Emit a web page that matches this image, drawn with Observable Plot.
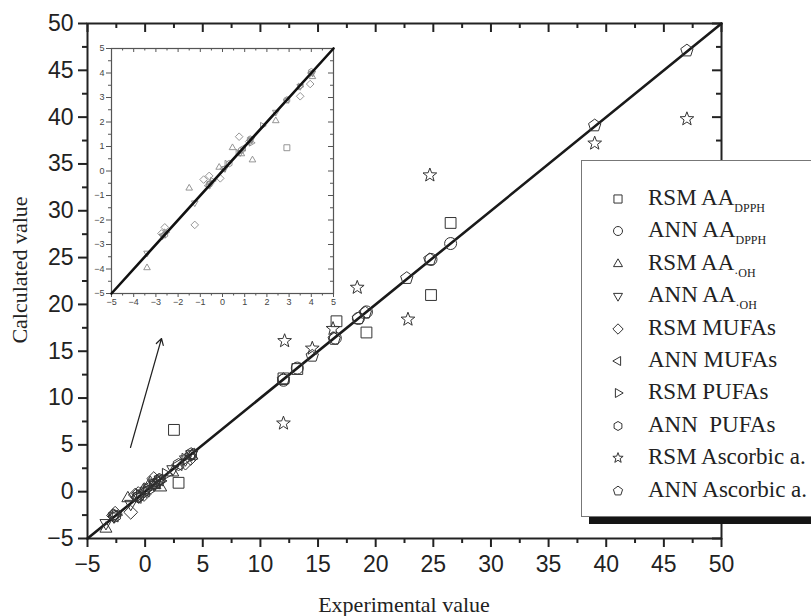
<!DOCTYPE html>
<html><head><meta charset="utf-8">
<script src="https://cdn.jsdelivr.net/npm/d3@7"></script>
<script src="https://cdn.jsdelivr.net/npm/@observablehq/plot@0.6"></script>
<style>
html,body{margin:0;padding:0;background:#fff;overflow:hidden}
#wrap{position:relative;width:811px;height:616px;overflow:hidden;background:#fff}
#wrap svg{position:absolute}
.lbl{position:absolute;font-family:"Liberation Serif","Times New Roman",serif;font-size:22px;color:#222;white-space:nowrap}
#legend{position:absolute;left:581px;top:160px;width:260px;height:355px;border:1px solid #777;background:#fff;box-shadow:8px 7px 0 #151515}
.row{position:absolute;left:0;height:30px;width:260px;font-family:"Liberation Serif","Times New Roman",serif;font-size:23px;color:#222;white-space:nowrap}
.row svg{position:absolute;left:26px;top:5px}
.row span.t{position:absolute;left:66px;top:1px;line-height:26px}
.row sub{font-size:12px;vertical-align:baseline;position:relative;top:7px}
</style></head><body><div id="wrap"></div>
<script>
// ---------- data ----------
const seriesNames = ["RSM AA_DPPH","ANN AA_DPPH","RSM AA_OH","ANN AA_OH","RSM MUFAs","ANN MUFAs","RSM PUFAs","ANN PUFAs","RSM Ascorbic a.","ANN Ascorbic a."];

const rsmDpphX = [12.0, 13.2, 16.6, 19.2, 24.8, 26.5, 2.5, 2.9];
const rsmDpphY = [12.1, 13.1, 18.2, 17.0, 21.0, 28.7, 6.6, 0.95];

const annDpphX = [12.0, 13.2, 16.5, 18.5, 19.2, 24.8, 26.5];
const annDpphY = [11.9, 13.2, 16.4, 18.5, 19.2, 24.8, 26.5];

const rsmOhX = [-3.4, -1.5, 0.45, 1.35, 2.4, 4.05, -0.15, 0.85];
const rsmOhY = [-3.95, -0.7, 0.95, 0.45, 2.05, 3.85, 0.15, 0.7];

const annOhX = [-3.4, -2.7, -1.25, -0.55, 0.1, 0.8, 1.3, 2.4, 3.5, 4.05];
const annOhY = [-3.35, -2.65, -1.3, -0.5, 0.1, 0.75, 1.3, 2.4, 3.45, 4.0];

const rsmMufaX = [-2.6, -2.75, -1.25, -0.85, -0.6, -0.55, -0.1, 0.75, 1.2, 3.5, 3.95];
const rsmMufaY = [-2.3, -2.55, -2.2, -0.35, -0.2, -0.5, -0.3, 1.4, 1.2, 3.05, 3.55];

const annMufaX = [-2.65, -0.65, 0.05, 0.95, 1.25, 2.9, 4.0];
const annMufaY = [-2.6, -0.6, 0.1, 0.95, 1.25, 2.9, 4.0];

const rsmPufaX = [-2.55, -0.45, 0.2, 0.7, 1.3, 1.8, 3.5];
const rsmPufaY = [-2.5, -0.4, 0.3, 0.75, 1.15, 1.85, 3.45];

const annPufaX = [-2.6, -0.6, 0.3, 0.85, 1.25, 2.9, 4.0];
const annPufaY = [-2.6, -0.55, 0.3, 0.85, 1.3, 2.9, 4.05];

const rsmAscX = [12.0, 12.1, 14.5, 16.3, 18.4, 22.8, 24.7, 39.0, 47.0];
const rsmAscY = [7.3, 16.1, 15.3, 17.4, 21.8, 18.4, 33.8, 37.2, 39.8];

const annAscX = [12.0, 14.5, 16.4, 18.5, 19.1, 22.7, 24.7, 39.0, 47.0];
const annAscY = [12.0, 14.5, 16.3, 18.5, 19.1, 22.8, 24.8, 39.1, 47.1];

const identity = [-5, 50];
const insetIdentity = [-5, 5];
const arrowData = [{x1: -1.27, y1: 4.72, x2: 1.42, y2: 16.36}];
const mainTicks = [-5, 0, 5, 10, 15, 20, 25, 30, 35, 40, 45, 50];
const mainMinor = [-2.5, 2.5, 7.5, 12.5, 17.5, 22.5, 27.5, 32.5, 37.5, 42.5, 47.5];
const insetTicks = [-5, -4, -3, -2, -1, 0, 1, 2, 3, 4, 5];
const insetMinor = [-4.5, -3.5, -2.5, -1.5, -0.5, 0.5, 1.5, 2.5, 3.5, 4.5];

// ---------- symbols ----------
const sym = f => ({draw(ctx, size) { const r = Math.sqrt(size / Math.PI); f(ctx, r); }});
const poly = pts => sym((ctx, r) => { pts.forEach(([a, b], i) => i ? ctx.lineTo(a * r, b * r) : ctx.moveTo(a * r, b * r)); ctx.closePath(); });
const ngon = (n, rad, rot) => Array.from({length: n}, (_, i) => { const a = rot + i * 2 * Math.PI / n; return [rad * Math.cos(a), rad * Math.sin(a)]; });
const starPts = Array.from({length: 10}, (_, i) => { const a = -Math.PI / 2 + i * Math.PI / 5; const rr = i % 2 ? 0.5 : 1.2; return [rr * Math.cos(a), rr * Math.sin(a)]; });
const symbols = [
  poly([[-0.9, -0.9], [0.9, -0.9], [0.9, 0.9], [-0.9, 0.9]]),
  sym((ctx, r) => { ctx.moveTo(r, 0); ctx.arc(0, 0, r, 0, 2 * Math.PI); }),
  poly([[0, -1.15], [1.0, 0.58], [-1.0, 0.58]]),
  poly([[0, 1.15], [1.0, -0.58], [-1.0, -0.58]]),
  poly([[0, -1.15], [1.15, 0], [0, 1.15], [-1.15, 0]]),
  poly([[-1.15, 0], [0.58, -1.0], [0.58, 1.0]]),
  poly([[1.15, 0], [-0.58, -1.0], [-0.58, 1.0]]),
  poly(ngon(6, 1.0, -Math.PI / 2)),
  poly(starPts),
  poly(ngon(5, 1.08, -Math.PI / 2))
];
const xs = [rsmDpphX, annDpphX, rsmOhX, annOhX, rsmMufaX, annMufaX, rsmPufaX, annPufaX, rsmAscX, annAscX];
const ys = [rsmDpphY, annDpphY, rsmOhY, annOhY, rsmMufaY, annMufaY, rsmPufaY, annPufaY, rsmAscY, annAscY];
const series = seriesNames.map((name, i) => xs[i].map((x, j) => ({name, x, y: ys[i][j]})));

const wrap = document.getElementById("wrap");

// ---------- main plot ----------
const W = 811, H = 616, mL = 87, mR = 90, mT = 23, mB = 78;
const fw = W - mL - mR, fh = H - mT - mB;
const main = Plot.plot({
  width: W, height: H, marginLeft: mL, marginRight: mR, marginTop: mT, marginBottom: mB,
  x: {domain: [-5, 50]}, y: {domain: [-5, 50]},
  style: {fontFamily: "'Liberation Sans', Arial, sans-serif", fontSize: "23px", color: "#222", background: "transparent", overflow: "visible"},
  marks: [
    Plot.axisX(mainTicks, {anchor: "bottom", tickSize: 9, tickPadding: 8, label: null, strokeWidth: 2, fill: "#222"}),
    Plot.axisX(mainMinor, {anchor: "bottom", tickSize: 5, tickFormat: () => "", label: null, strokeWidth: 2}),
    Plot.axisY(mainTicks, {anchor: "left", tickSize: 9, tickPadding: 5, label: null, strokeWidth: 2, fill: "#222"}),
    Plot.axisY(mainMinor, {anchor: "left", tickSize: 5, tickFormat: () => "", label: null, strokeWidth: 2}),
    Plot.tickX(mainTicks, {x: d => d, insetBottom: fh - 9, stroke: "#222", strokeWidth: 2}),
    Plot.tickX(mainMinor, {x: d => d, insetBottom: fh - 5, stroke: "#222", strokeWidth: 2}),
    Plot.tickY(mainTicks, {y: d => d, insetLeft: fw - 9, stroke: "#222", strokeWidth: 2}),
    Plot.tickY(mainMinor, {y: d => d, insetLeft: fw - 5, stroke: "#222", strokeWidth: 2}),
    Plot.frame({stroke: "#222", strokeWidth: 2}),
    Plot.line(identity, {x: d => d, y: d => d, stroke: "#1a1a1a", strokeWidth: 2.6}),
    Plot.arrow(arrowData, {x1: "x1", y1: "y1", x2: "x2", y2: "y2", stroke: "#222", strokeWidth: 1.2, headLength: 9, bend: 0}),
    ...series.map((s, i) => Plot.dot(s, {x: "x", y: "y", r: 6, symbol: symbols[i], stroke: "#333", strokeWidth: 1, fill: "none"}))
  ]
});
main.style.left = "0px"; main.style.top = "0px";
wrap.appendChild(main);

// ---------- inset ----------
const iL = 60, iT = 30, iW = 290, iH = 290, imL = 51, imR = 17, imT = 18, imB = 27;
const ifw = iW - imL - imR, ifh = iH - imT - imB;
const within = d => d.x >= -5 && d.x <= 5 && d.y >= -5 && d.y <= 5;
const inset = Plot.plot({
  width: iW, height: iH, marginLeft: imL, marginRight: imR, marginTop: imT, marginBottom: imB,
  x: {domain: [-5, 5]}, y: {domain: [-5, 5]},
  style: {fontFamily: "'Liberation Sans', Arial, sans-serif", fontSize: "9px", color: "#444", background: "transparent", overflow: "visible"},
  marks: [
    Plot.axisX(insetTicks, {anchor: "bottom", tickSize: 4, tickPadding: 1, label: null, stroke: "#555"}),
    Plot.axisX(insetMinor, {anchor: "bottom", tickSize: 2.5, tickFormat: () => "", label: null, stroke: "#555"}),
    Plot.axisY(insetTicks, {anchor: "left", tickSize: 5, tickPadding: 2, label: null, stroke: "#555"}),
    Plot.axisY(insetMinor, {anchor: "left", tickSize: 3, tickFormat: () => "", label: null, stroke: "#555"}),
    Plot.tickX(insetTicks, {x: d => d, insetBottom: ifh - 4, stroke: "#555"}),
    Plot.tickX(insetMinor, {x: d => d, insetBottom: ifh - 2.5, stroke: "#555"}),
    Plot.tickY(insetTicks, {y: d => d, insetLeft: ifw - 5, stroke: "#555"}),
    Plot.tickY(insetMinor, {y: d => d, insetLeft: ifw - 3, stroke: "#555"}),
    Plot.frame({stroke: "#555", strokeWidth: 1.2}),
    ...series.map((s, i) => Plot.dot(s.filter(within), {x: "x", y: "y", r: 3.3, symbol: symbols[i], stroke: "#8a8a8a", strokeWidth: 0.9, fill: "none"})),
    Plot.line(insetIdentity, {x: d => d, y: d => d, stroke: "#111", strokeWidth: 2.6})
  ]
});
inset.style.left = iL + "px"; inset.style.top = iT + "px";
wrap.appendChild(inset);

// ---------- axis titles ----------
const xt = document.createElement("div");
xt.className = "lbl"; xt.textContent = "Experimental value";
xt.style.left = "404px"; xt.style.top = "592px"; xt.style.transform = "translateX(-50%)";
wrap.appendChild(xt);
const yt = document.createElement("div");
yt.className = "lbl"; yt.textContent = "Calculated value";
yt.style.left = "20px"; yt.style.top = "270px"; yt.style.transform = "translate(-50%,-50%) rotate(-90deg)";
wrap.appendChild(yt);

// ---------- legend ----------
const legendLabels = [
  ["RSM AA", "DPPH"], ["ANN AA", "DPPH"], ["RSM AA", "·OH"], ["ANN AA", "·OH"],
  ["RSM MUFAs", ""], ["ANN MUFAs", ""], ["RSM PUFAs", ""], ["ANN\u00a0 PUFAs", ""], ["RSM Ascorbic a.", ""], ["ANN Ascorbic a.", ""]
];
const legend = document.createElement("div");
legend.id = "legend";
legendLabels.forEach(([main_, sub], i) => {
  const row = document.createElement("div");
  row.className = "row";
  row.style.top = (38 + i * 32.4 - 15) + "px";
  const s = d3.create("svg").attr("width", 20).attr("height", 20);
  s.append("path").attr("transform", "translate(10,10)").attr("d", d3.symbol(symbols[i], Math.PI * 4.5 * 4.5)()).attr("fill", "none").attr("stroke", "#333").attr("stroke-width", 1);
  row.appendChild(s.node());
  const t = document.createElement("span");
  t.className = "t";
  t.innerHTML = main_ + (sub ? "<sub>" + sub + "</sub>" : "");
  row.appendChild(t);
  legend.appendChild(row);
});
wrap.appendChild(legend);
</script>
</body></html>
